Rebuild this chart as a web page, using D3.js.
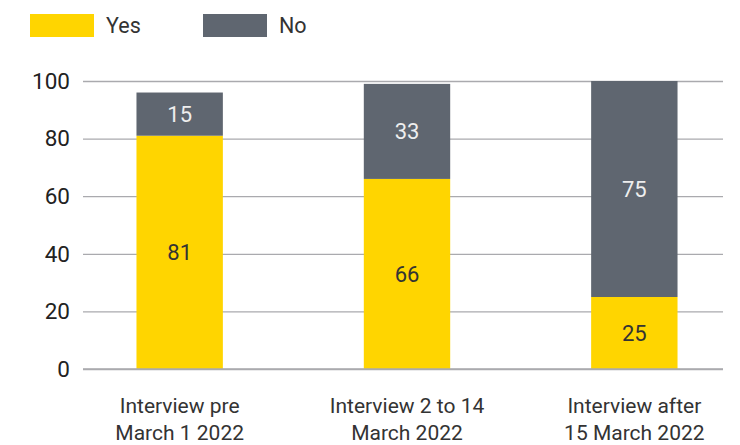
<!DOCTYPE html>
<html>
<head>
<meta charset="utf-8">
<script src="https://cdn.jsdelivr.net/npm/d3@7"></script>
<style>
  html, body { margin: 0; padding: 0; background: #fff; }
  svg { display: block; }
  text { font-family: Roboto, "Noto Sans", sans-serif; }
</style>
</head>
<body>
<svg id="chart" width="740" height="445"></svg>
<script>
// Survey responses by interview period (percent)
const categories = [
  ["Interview pre", "March 1 2022"],
  ["Interview 2 to 14", "March 2022"],
  ["Interview after", "15 March 2022"]
];
const yesValues = [81, 66, 25];
const noValues = [15, 33, 75];
const seriesNames = ["Yes", "No"];
const yTicks = [0, 20, 40, 60, 80, 100];

const colors = { Yes: "#FFD500", No: "#5F6670" };
const labelColors = { Yes: "#333333", No: "#EEEEEE" };

const svg = d3.select("#chart");
const gridLeft = 83, gridRight = 723;

const y = d3.scaleLinear().domain([0, 100]).range([369, 81]);
const x = d3.scaleBand()
  .domain(d3.range(categories.length))
  .range([66, 748])
  .paddingInner(0.62)
  .paddingOuter(0.31);

// Gridlines and y tick labels
const yAxis = d3.axisLeft(y).tickValues(yTicks).tickSize(-(gridRight - gridLeft)).tickPadding(12);
const gy = svg.append("g").attr("transform", `translate(${gridLeft},0)`).call(yAxis);
gy.select(".domain").remove();
gy.selectAll(".tick line").attr("stroke", "#AAAAAE").attr("stroke-width", 1.3);
gy.selectAll(".tick text")
  .attr("fill", "#222")
  .attr("font-size", 22.5)
  .attr("x", -13);

// Stacked data
const rows = categories.map((c, i) => ({ i, Yes: yesValues[i], No: noValues[i] }));
const stacked = d3.stack().keys(seriesNames)(rows);

const layers = svg.append("g").selectAll("g")
  .data(stacked)
  .join("g")
  .attr("fill", d => colors[d.key]);

layers.selectAll("rect")
  .data(d => d.map(p => ({ p, key: d.key })))
  .join("rect")
  .attr("x", d => x(d.p.data.i))
  .attr("width", x.bandwidth())
  .attr("y", d => y(d.p[1]))
  .attr("height", d => y(d.p[0]) - y(d.p[1]));

// Value labels centred in each segment
layers.selectAll("text")
  .data(d => d.map(p => ({ p, key: d.key })))
  .join("text")
  .attr("x", d => x(d.p.data.i) + x.bandwidth() / 2)
  .attr("y", d => (y(d.p[0]) + y(d.p[1])) / 2)
  .attr("dy", "0.36em")
  .attr("text-anchor", "middle")
  .attr("font-size", 22)
  .attr("fill", d => labelColors[d.key])
  .text(d => d.p.data[d.key]);

// Baseline drawn over the bars
svg.append("line")
  .attr("x1", gridLeft).attr("x2", gridRight)
  .attr("y1", y(0)).attr("y2", y(0))
  .attr("stroke", "#AAAAAE").attr("stroke-width", 1.5);

// Category labels (two lines each)
const catG = svg.append("g").selectAll("text")
  .data(categories)
  .join("text")
  .attr("text-anchor", "middle")
  .attr("font-size", 21)
  .attr("fill", "#333");
catG.each(function(lines, i) {
  const t = d3.select(this);
  lines.forEach((ln, j) => {
    t.append("tspan")
      .attr("x", x(i) + x.bandwidth() / 2)
      .attr("y", 413 + j * 27)
      .text(ln);
  });
});

// Legend
const legend = svg.append("g").selectAll("g")
  .data(seriesNames)
  .join("g")
  .attr("transform", (d, i) => `translate(${30 + i * 173},14)`);
legend.append("rect")
  .attr("width", 64).attr("height", 23)
  .attr("fill", d => colors[d]);
legend.append("text")
  .attr("x", 76).attr("y", 19)
  .attr("font-size", 21.5)
  .attr("fill", "#333")
  .text(d => d);
</script>
</body>
</html>
